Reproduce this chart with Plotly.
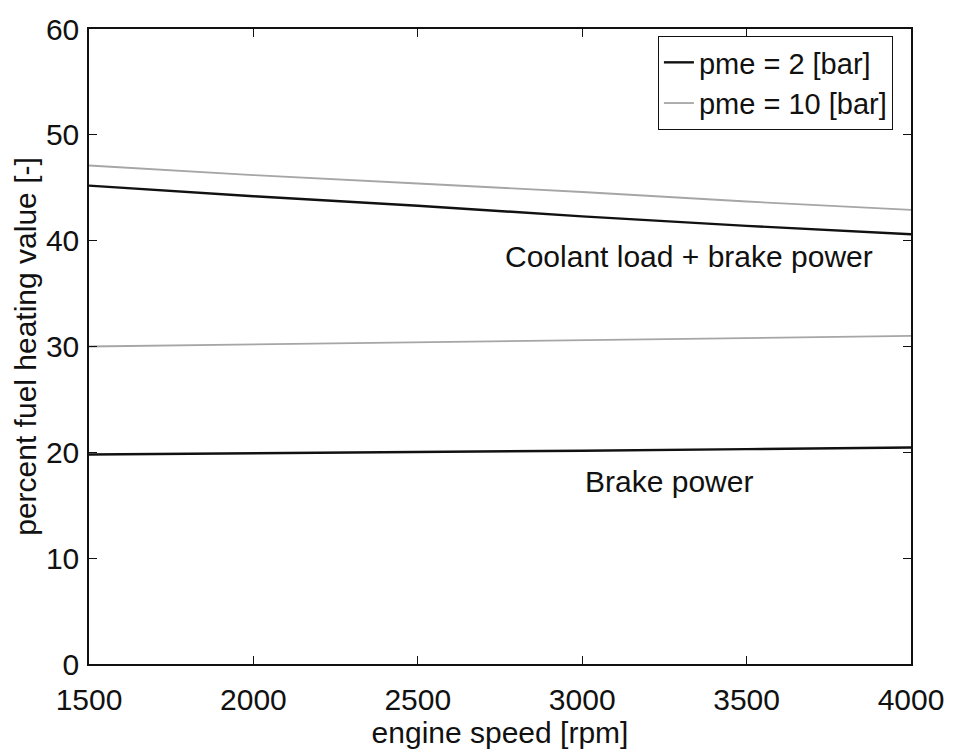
import plotly.graph_objects as go

# engine speed [rpm]
speed = [1500, 2000, 2500, 3000, 3500, 4000]

# percent of fuel heating value [-]
coolant_brake_pme2 = [45.2, 44.2, 43.3, 42.3, 41.4, 40.6]
coolant_brake_pme10 = [47.1, 46.2, 45.4, 44.6, 43.7, 42.9]
brake_pme2 = [19.8, 19.9, 20.0, 20.15, 20.3, 20.45]
brake_pme10 = [30.0, 30.2, 30.4, 30.6, 30.8, 31.0]

x_ticks = [1500, 2000, 2500, 3000, 3500, 4000]
y_ticks = [0, 10, 20, 30, 40, 50, 60]

FONT = "Liberation Sans, Arial, Helvetica, sans-serif"
BLACK = "#111111"
GRAY = "#a6a6a6"
FS = 30

fig = go.Figure()

fig.add_trace(go.Scatter(x=speed, y=coolant_brake_pme2, mode="lines",
                         line=dict(color=BLACK, width=2.4),
                         name="pme = 2 [bar]", legendgroup="p2"))
fig.add_trace(go.Scatter(x=speed, y=coolant_brake_pme10, mode="lines",
                         line=dict(color=GRAY, width=1.8),
                         name="pme = 10 [bar]", legendgroup="p10"))
fig.add_trace(go.Scatter(x=speed, y=brake_pme2, mode="lines",
                         line=dict(color=BLACK, width=2.4),
                         name="pme = 2 [bar]", legendgroup="p2",
                         showlegend=False))
fig.add_trace(go.Scatter(x=speed, y=brake_pme10, mode="lines",
                         line=dict(color=GRAY, width=1.8),
                         name="pme = 10 [bar]", legendgroup="p10",
                         showlegend=False))

fig.add_annotation(x=3890, y=38.5, text="Coolant load + brake power",
                   showarrow=False, xanchor="right", yanchor="middle",
                   font=dict(size=FS, color=BLACK, family=FONT))
fig.add_annotation(x=3265, y=17.2, text="Brake power",
                   showarrow=False, xanchor="center", yanchor="middle",
                   font=dict(size=FS, color=BLACK, family=FONT))

axis_common = dict(
    showline=True, linecolor=BLACK, linewidth=1.5, mirror="ticks",
    ticks="inside", ticklen=8, tickwidth=1.2, tickcolor=BLACK,
    showgrid=False, zeroline=False,
    tickfont=dict(size=FS, color=BLACK, family=FONT),
)

fig.update_layout(
    width=956, height=751,
    margin=dict(l=89, r=44, t=18, b=83),
    paper_bgcolor="white", plot_bgcolor="white",
    font=dict(family=FONT, color=BLACK),
    xaxis=dict(range=[1500, 4000], tickvals=x_ticks, ticklabelstandoff=8,
               title=dict(text="engine speed [rpm]", standoff=2,
                          font=dict(size=FS, color=BLACK, family=FONT)),
               **axis_common),
    yaxis=dict(range=[0, 60], tickvals=y_ticks, ticklabelstandoff=2,
               title=dict(text="percent fuel heating value [-]", standoff=0,
                          font=dict(size=FS, color=BLACK, family=FONT)),
               **axis_common),
    legend=dict(x=0.978, y=0.989, xanchor="right", yanchor="top",
                bgcolor="white", bordercolor=BLACK, borderwidth=1,
                font=dict(size=29, color=BLACK, family=FONT),
                tracegroupgap=0),
    showlegend=True,
)

fig.write_html("out.html")
